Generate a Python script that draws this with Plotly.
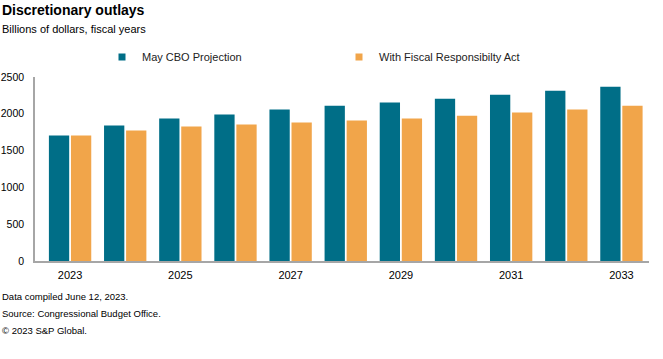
import plotly.graph_objects as go

years = [str(y) for y in range(2023, 2034)]
tick_years = ["2023", "2025", "2027", "2029", "2031", "2033"]
cbo_projection = [1704, 1840, 1935, 1989, 2057, 2111, 2152, 2206, 2260, 2314, 2369]
fiscal_resp_act = [1704, 1772, 1826, 1853, 1881, 1908, 1935, 1975, 2016, 2057, 2111]
y_ticks = [0, 500, 1000, 1500, 2000, 2500]
series_names = ["May CBO Projection", "With Fiscal Responsibilty Act"]

BLUE = "#006E87"
ORANGE = "#F1A54A"
FONT = "Liberation Sans, Arial, sans-serif"

W, H = 663, 359
L, R, T, B = 35, 14, 77, 98
ph = H - T - B
pw = W - L - R

def py(pix):
    return (H - B - pix) / ph

def px(pix):
    return (pix - L) / pw

fig = go.Figure()
fig.add_trace(go.Bar(x=years, y=cbo_projection, name=series_names[0], showlegend=False,
                     marker=dict(color=BLUE, line=dict(width=0))))
fig.add_trace(go.Bar(x=years, y=fiscal_resp_act, name=series_names[1], showlegend=False,
                     marker=dict(color=ORANGE, line=dict(width=0))))
# legend entries with small square swatches
for nm, col in zip(series_names, [BLUE, ORANGE]):
    fig.add_trace(go.Scatter(x=[years[0]], y=[None], mode="markers", name=nm,
                             marker=dict(symbol="square", size=7, color=col),
                             hoverinfo="skip"))

fig.update_layout(
    width=W, height=H,
    margin=dict(l=L, r=R, t=T, b=B, pad=0),
    paper_bgcolor="white", plot_bgcolor="white",
    font=dict(family=FONT, size=11, color="#000000"),
    barmode="group", bargap=0.2, bargroupgap=0.08,
    showlegend=True,
    legend=dict(orientation="h", x=px(102), xanchor="left", y=py(57), yanchor="middle",
                font=dict(size=11, color="#222222"), entrywidth=192, entrywidthmode="pixels",
                bgcolor="rgba(0,0,0,0)"),
    xaxis=dict(type="category", tickmode="array", tickvals=tick_years, ticktext=tick_years,
               showline=True, linecolor="#A6A6A6", linewidth=1.5, ticks="", showgrid=False,
               tickfont=dict(size=11, color="#000000"), automargin=False, ticklabelstandoff=3),
    yaxis=dict(range=[0, 2500], tickvals=y_ticks, showline=True, linecolor="#A6A6A6",
               linewidth=1.5, ticks="", showgrid=False, zeroline=False, automargin=False,
               tickfont=dict(size=10.5, color="#000000"), ticklabelstandoff=7),
)

annotations = [
    dict(text="<b>Discretionary outlays</b>", x=px(0), y=py(10), size=14),
    dict(text="Billions of dollars, fiscal years", x=px(0), y=py(29), size=11),
    dict(text="Data compiled June 12, 2023.", x=px(0), y=py(296), size=9.5),
    dict(text="Source: Congressional Budget Office.", x=px(0), y=py(313), size=9.5),
    dict(text="© 2023 S&P Global.", x=px(0), y=py(330), size=9.5),
]
for a in annotations:
    fig.add_annotation(text=a["text"], x=a["x"], y=a["y"], xref="paper", yref="paper",
                       xanchor="left", yanchor="middle", showarrow=False,
                       font=dict(family=FONT, size=a["size"], color="#000000"))

fig.write_html("out.html", config={"displayModeBar": False},
               post_script="document.body.style.margin='0px';")
